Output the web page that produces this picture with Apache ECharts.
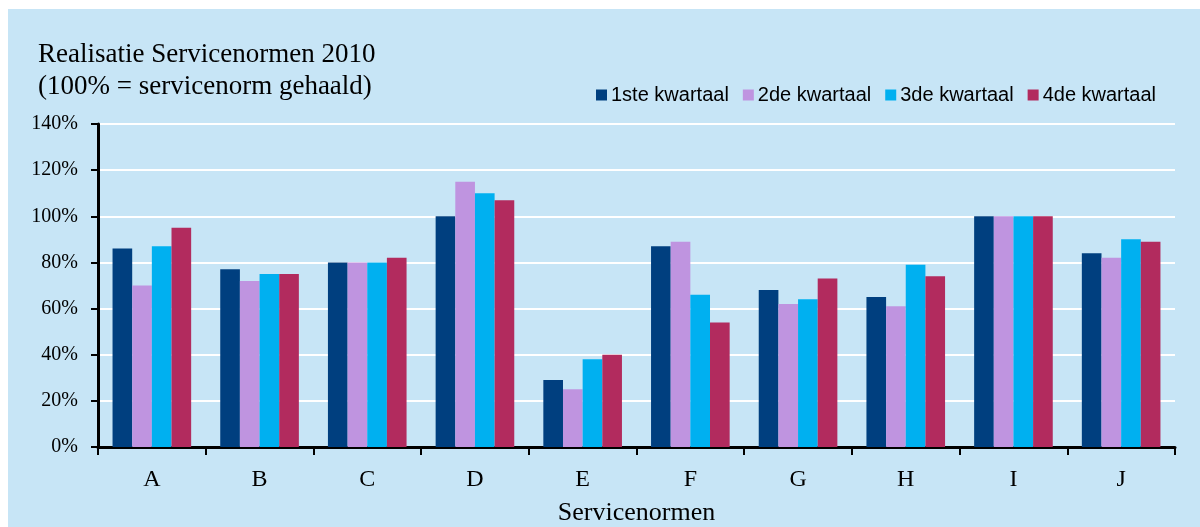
<!DOCTYPE html>
<html>
<head>
<meta charset="utf-8">
<script src="https://cdn.jsdelivr.net/npm/echarts@6/dist/echarts.min.js"></script>
<style>
    html, body { margin: 0; padding: 0; background: #fff; }
    #chart { width: 1200px; height: 527px; }
</style>
</head>
<body>
<div id="chart"></div>
<script>
var categories = ['A', 'B', 'C', 'D', 'E', 'F', 'G', 'H', 'I', 'J'];
var seriesNames = ['1ste kwartaal', '2de kwartaal', '3de kwartaal', '4de kwartaal'];
var q1 = [86, 77, 80, 100, 29, 87, 68, 65, 100, 84];
var q2 = [70, 72, 80, 115, 25, 89, 62, 61, 100, 82];
var q3 = [87, 75, 80, 110, 38, 66, 64, 79, 100, 90];
var q4 = [95, 75, 82, 107, 40, 54, 73, 74, 100, 89];
var colors = ['#003f7f', '#bf94e0', '#00b0f0', '#b22b5e'];

var myChart = echarts.init(document.getElementById('chart'));
var serif = '"Liberation Serif", "Times New Roman", serif';

function makeSeries(name, data, color) {
    return {
        name: name,
        type: 'bar',
        data: data,
        barGap: '0%',
        barCategoryGap: '27%',
        itemStyle: {
            color: color
        }
    };
}

var option = {
    backgroundColor: '#ffffff',
    animation: false,
    graphic: [{
        type: 'rect',
        z: -10,
        shape: { x: 8, y: 9, width: 1192, height: 518 },
        style: { fill: '#c7e5f6' }
    }],
    title: {
        text: 'Realisatie Servicenormen 2010\n(100% = servicenorm gehaald)',
        left: 33,
        top: 34,
        textStyle: {
            fontFamily: serif,
            fontSize: 27,
            fontWeight: 'normal',
            color: '#000',
            lineHeight: 32
        }
    },
    legend: {
        data: seriesNames,
        left: 591,
        top: 80,
        icon: 'rect',
        itemWidth: 11,
        itemHeight: 11,
        itemGap: 14,
        textStyle: {
            fontFamily: '"Liberation Sans", Arial, sans-serif',
            fontSize: 20,
            color: '#000',
            padding: [0, 0, 0, -1]
        }
    },
    grid: {
        left: 98,
        right: 25,
        top: 124,
        bottom: 80,
        containLabel: false,
        outerBoundsMode: 'none'
    },
    xAxis: {
        type: 'category',
        data: categories,
        name: 'Servicenormen',
        nameLocation: 'middle',
        nameGap: 53,
        nameTextStyle: {
            fontFamily: serif,
            fontSize: 26,
            color: '#000'
        },
        axisLine: {
            show: true,
            lineStyle: { color: '#000', width: 3 }
        },
        axisTick: {
            show: true,
            length: 8,
            lineStyle: { color: '#000', width: 2 }
        },
        axisLabel: {
            margin: 21,
            fontFamily: serif,
            fontSize: 24,
            color: '#000'
        }
    },
    yAxis: {
        type: 'value',
        min: 0,
        max: 140,
        interval: 20,
        axisLine: {
            show: true,
            lineStyle: { color: '#000', width: 3 }
        },
        axisTick: {
            show: true,
            length: 7,
            lineStyle: { color: '#000', width: 2 }
        },
        axisLabel: {
            margin: 20,
            fontFamily: serif,
            fontSize: 20,
            color: '#000',
            formatter: '{value}%'
        },
        splitLine: {
            show: true,
            lineStyle: { color: '#ffffff', width: 2 }
        }
    },
    series: [
        makeSeries(seriesNames[0], q1, colors[0]),
        makeSeries(seriesNames[1], q2, colors[1]),
        makeSeries(seriesNames[2], q3, colors[2]),
        makeSeries(seriesNames[3], q4, colors[3])
    ]
};

myChart.setOption(option);
window.addEventListener("resize", function () {
    myChart.resize();
});
</script>
</body>
</html>
